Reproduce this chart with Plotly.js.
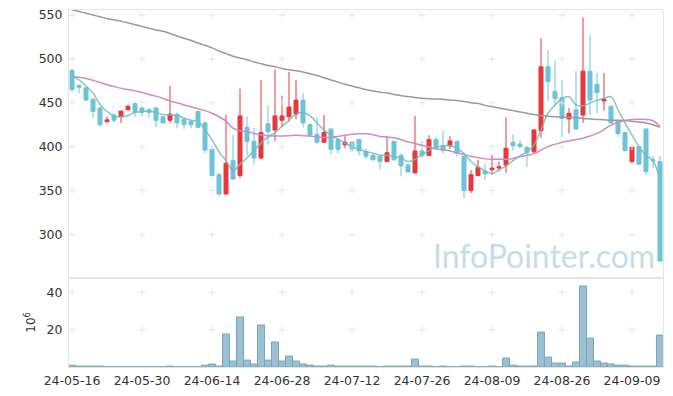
<!DOCTYPE html>
<html>
<head>
<meta charset="utf-8">
<script src="https://cdn.plot.ly/plotly-3.0.1.min.js"></script>
<style>html,body{margin:0;padding:0;background:#fff;}#chart{width:673px;height:396px;}</style>
</head>
<body>
<div id="chart"></div>
<script>
const dates = [
 "24-05-16","24-05-17","24-05-20","24-05-21","24-05-22","24-05-23","24-05-24","24-05-27","24-05-28","24-05-29",
 "24-05-30","24-05-31","24-06-03","24-06-04","24-06-05","24-06-07","24-06-10","24-06-11","24-06-12","24-06-13",
 "24-06-14","24-06-17","24-06-18","24-06-19","24-06-20","24-06-21","24-06-24","24-06-25","24-06-26","24-06-27",
 "24-06-28","24-07-01","24-07-02","24-07-03","24-07-04","24-07-05","24-07-08","24-07-09","24-07-10","24-07-11",
 "24-07-12","24-07-15","24-07-16","24-07-17","24-07-18","24-07-19","24-07-22","24-07-23","24-07-24","24-07-25",
 "24-07-26","24-07-29","24-07-30","24-07-31","24-08-01","24-08-02","24-08-05","24-08-06","24-08-07","24-08-08",
 "24-08-09","24-08-12","24-08-13","24-08-14","24-08-16","24-08-19","24-08-20","24-08-21","24-08-22","24-08-23",
 "24-08-26","24-08-27","24-08-28","24-08-29","24-08-30","24-09-02","24-09-03","24-09-04","24-09-05","24-09-06",
 "24-09-09","24-09-10","24-09-11","24-09-12","24-09-13"
];
const openP = [487,469.5,467,454,444,428.5,436,434,442,449, 444,442,444,434,430,437,431,429,440,427,
 397,368,346,384,367,422,406,387,426,419, 430,434,437,453,425,414,405,420,408,402,
 405,408,394,390,389,383,406,390,379,370, 395,390,408,401,401,406,389,350,367,372,
 373.5,375.5,379,405,403,399,394,418,491,463, 456,431.5,442,436,486,471,452,446,430,416,
 383,400,420,385,383];
const highP = [489,471,468,455,445,434,438,441,448,450, 446,444,445,435,469,439,432,430,441,429,
 398,370,436,413,466,434,421,476,447,488, 458,485,476,461,427,433,436,420.5,408.5,412,
 406,409,398,392,389.5,412,406.5,392,381,435, 406,413,411,418,412,406.5,389.5,373,385,380,
 390.5,383,433.5,414,408,401,419.5,523.5,510,498, 476,444,486,547,527,484,484,447,430.5,417,
 401,400.5,420.5,389,389];
const lowP = [463,461,452,433,423,427,427,427,441,434, 434,433,422,426,427,421,420,421,421,392,
 366,344,345,362,364,389,380,386,402,406, 422,428,431,422,412,403,404,391,392,398,
 394,390,386,384,374,382,384,366,370,369.5, 387,389,396,392,397,389,341,347,366,362,
 368,371.5,370,395.5,398,377,392.5,410,452,446, 411,415,419,427,436,438,441,426.6,411,394,
 381,379,368,376,269];
const closeP = [465,467.7,453,440,425,430.5,430,440.5,446,439, 439,439,430,427,437,427,425,425,422,396,
 367,346,381,363,435,406,387,416,417,435, 435,445,453,427,413,405,416,397,397,405,
 397,395,389,385,383,393,385,378,371,395, 390,408,399,395.5,406.5,392,350,368,376.5,369,
 375.5,377,398,401,400,393,419,491,474,455, 432,438,420,486,453,461.5,454,427,415,395.5,
 400,380,371.5,384,269.5];
const ma5 = [480,476,469,461,448,440,435,434,435.5,439, 440,440.5,439,436.5,436,435.5,432.5,430,428.5,419,
 408,394,384,373,380,387,395.5,404,411,416, 423,430,437,439,435,427,419,413,408.5,404,
 400,397,394.5,392.5,390.5,390,388.5,387,383,385.5, 390.5,395.5,399,401,401,398,392,383,377,372.5,
 369,373.5,378,384,389.5,394,402,419,438,447.5, 455,457,447.5,446.5,449.5,453,455,457,442,427,
 413,400,390,384,362];
const ma20 = [480,479,477.5,475.5,473,470.5,468.5,466.5,465,463.5, 461.5,459.5,457.5,455,452,450,447.5,445.5,443,441,
 438,434,429,421,418,417,415,413.5,412.5,412, 412,412.5,413,412.5,412,411,410.5,410.5,411.5,413,
 414,414.5,414.5,413.5,411.5,411,410,408,405.5,403.5, 401.5,399.5,397.5,396.5,395,393,391,389,387.5,386,
 385.5,385.5,385.5,386.5,388.5,390,392,396,400,402.5, 405,406.5,408,409.5,412,415,419.5,424.5,427.5,430,
 431,431.2,431,429.5,423];
const ma60 = [556,554,552,550,548,546,544.5,543,541,539, 537,535,533,531.5,529,526,523.5,521,518,515.5,
 512.5,509,506,503,501,499,496.5,494.5,492.5,491, 489,487.5,486.5,485,483,481,478.5,476,473.5,471,
 469,467,465,463.5,462,461,459.5,458,457,456, 455,454.5,454.3,454,453,452.5,451.5,450,449,447,
 445.5,444,442.5,441,439.5,438,436.5,435.5,434.5,434, 433.8,433.5,433,432,431.5,431,430.5,430,430,429.6,
 429,428,427,425,422];
const volume = [1.0,0.5,0.5,0.5,0.5,0.15,0.15,0.15,0.15,0.15, 0.15,0.15,0.15,0.15,0.5,0.15,0.15,0.15,0.15,1.0,
 1.6,0.5,17.7,3.2,26.8,3.7,1.6,22.5,3.7,13.4, 3.2,5.9,3.2,1.6,1.0,0.5,0.5,1.0,0.5,0.5,
 0.5,0.5,0.5,0.5,0.15,0.5,0.5,0.5,0.5,4.3, 0.5,0.5,0.15,0.5,0.15,0.15,0.5,0.5,0.15,0.15,
 0.5,0.15,4.8,1.0,0.5,0.5,0.5,18.7,5.3,2.1, 2.1,0.5,2.7,43.4,15.5,3.2,2.1,1.6,1.0,1.0,
 0.5,0.5,0.5,0.5,17.1];
const priceTicks = [300,350,400,450,500,550];
const volTicks = [20,40];
const xTickDates = dates.filter((d,i)=>i%10===0);

const gridColor = '#e6e6e6';
const font = {family:'DejaVu Sans, sans-serif', size:12, color:'#333'};

function crosses(yvals, xa, ya){
  const xs=[], ys=[];
  xTickDates.forEach(d=>yvals.forEach(v=>{xs.push(d);ys.push(v);}));
  return {type:'scatter', mode:'markers', x:xs, y:ys, xaxis:xa, yaxis:ya, hoverinfo:'skip',
    marker:{symbol:'cross-thin', size:5, line:{color:gridColor, width:1}}, showlegend:false};
}

const traces = [
  {type:'scatter', mode:'lines', x:dates, y:ma60, line:{color:'#9a9a9a', width:1.5, shape:'spline'}, hoverinfo:'skip'},
  {type:'bar', x:dates, y:volume, xaxis:'x2', yaxis:'y2',
    marker:{color:'#9bc0d1', line:{color:'#78a6bd', width:1}}},
  crosses(priceTicks,'x','y'),
  crosses(volTicks,'x2','y2'),
  {type:'scatter', mode:'lines', x:dates, y:ma20, line:{color:'#cc8cc6', width:1.5, shape:'spline'}, hoverinfo:'skip'},
  {type:'candlestick', x:dates, open:openP, high:highP, low:lowP, close:closeP,
    increasing:{line:{color:'#e8383d', width:1}, fillcolor:'#e8383d'},
    decreasing:{line:{color:'#6cc3da', width:1}, fillcolor:'#6cc3da'}, whiskerwidth:0},
  {type:'scatter', mode:'lines', x:dates, y:ma5, line:{color:'rgba(110,190,178,0.85)', width:1.5, shape:'spline'}, hoverinfo:'skip'}
];

const axLine = {showgrid:false, zeroline:false, showline:true, mirror:true, linecolor:'#e4e4e4', linewidth:1, ticks:''};

const layout = {
  width:673, height:396,
  margin:{l:69, r:10, t:10, b:29},
  paper_bgcolor:'#fff', plot_bgcolor:'#fff',
  showlegend:false, font:font, boxgap:0.18, bargap:0,
  xaxis:Object.assign({type:'category', categoryorder:'array', categoryarray:dates, range:[-0.43,84.43],
    anchor:'y', showticklabels:false, rangeslider:{visible:false}}, axLine),
  yaxis:Object.assign({domain:[0.25,1], range:[250.5,555.7], tickvals:priceTicks, ticklabelstandoff:3,
    tickfont:{size:12.5}}, axLine),
  xaxis2:Object.assign({type:'category', categoryorder:'array', categoryarray:dates, matches:'x', range:[-0.43,84.43],
    anchor:'y2', tickvals:xTickDates, ticktext:xTickDates, tickangle:0, ticklabelstandoff:2,
    tickfont:{size:12.5}}, axLine),
  yaxis2:Object.assign({domain:[0,0.25], range:[0,47.8], tickvals:volTicks, ticklabelstandoff:3,
    tickfont:{size:12.5},
    title:{text:'10<sup>6</sup>', standoff:8, font:{family:'DejaVu Sans, sans-serif', size:12, color:'#333'}}}, axLine),
  annotations:[{xref:'paper', yref:'paper', x:0.99, y:0.312, xanchor:'right', yanchor:'middle',
    text:'InfoPointer.com', showarrow:false,
    font:{family:'Lato, sans-serif', size:32, color:'#c8dce6'}}]
};

Plotly.newPlot('chart', traces, layout, {staticPlot:true, displayModeBar:false});
</script>
</body>
</html>
